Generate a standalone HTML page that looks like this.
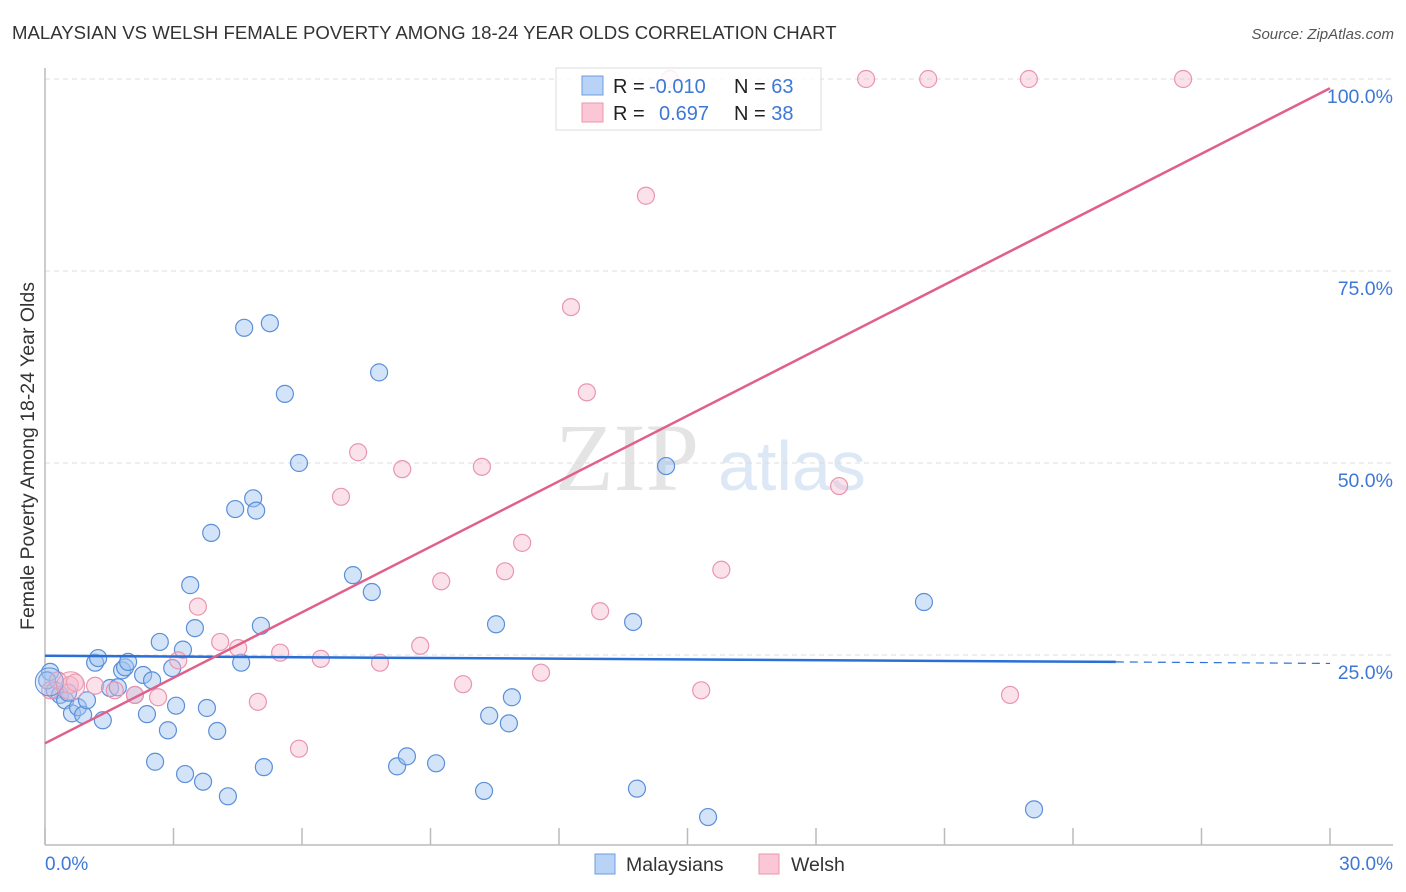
<!DOCTYPE html>
<html><head><meta charset="utf-8"><style>
body{margin:0;background:#fff;font-family:"Liberation Sans",sans-serif}
#wrap{position:relative;width:1406px;height:892px;overflow:hidden}
</style></head><body>
<div id="wrap">
<svg id="svg" width="1406" height="892" xmlns="http://www.w3.org/2000/svg">
<text x="12" y="39" font-size="18.6" fill="#333">MALAYSIAN VS WELSH FEMALE POVERTY AMONG 18-24 YEAR OLDS CORRELATION CHART</text>
<text x="1394" y="39" font-size="15" font-style="italic" fill="#555" text-anchor="end">Source: ZipAtlas.com</text>
<text x="555" y="490" font-size="96" font-family="Liberation Serif,serif" fill="#e4e4e4">ZIP</text>
<text x="718" y="490" font-size="70" fill="#dde8f6">atlas</text>
<text transform="translate(34,456) rotate(-90)" font-size="19.5" fill="#333" text-anchor="middle">Female Poverty Among 18-24 Year Olds</text>
<g id="grid"></g><g id="axes"></g><g id="pts"></g><g id="lines"></g>
<g>
<rect x="556" y="68" width="265" height="62" fill="#fff" fill-opacity="0.85" stroke="#ddd"/>
<rect x="582" y="76" width="21" height="19" fill="#b8d3f5" stroke="#6c9de0"/>
<rect x="582" y="103" width="21" height="19" fill="#fbc6d5" stroke="#eb97b0"/>
<text x="613" y="93" font-size="20" fill="#222">R = <tspan fill="#3d78d6" x="649">-0.010</tspan></text>
<text x="734" y="93" font-size="20" fill="#222">N = <tspan fill="#3d78d6">63</tspan></text>
<text x="613" y="120" font-size="20" fill="#222">R = <tspan fill="#3d78d6" x="659">0.697</tspan></text>
<text x="734" y="120" font-size="20" fill="#222">N = <tspan fill="#3d78d6">38</tspan></text>
</g>
<g>
<rect x="595" y="854" width="20" height="20" fill="#b8d3f5" stroke="#6c9de0"/>
<text x="626" y="871" font-size="19.5" fill="#333">Malaysians</text>
<rect x="759" y="854" width="20" height="20" fill="#fbc6d5" stroke="#eb97b0"/>
<text x="791" y="871" font-size="19.5" fill="#333">Welsh</text>
</g>
</svg>
</div>
<script>
const yTicks=[25,50,75,100];
const yTickLabels=["25.0%","50.0%","75.0%","100.0%"];
const xTickVals=[0,3,6,9,12,15,18,21,24,27,30];
const blueX=[0.12,0.23,0.35,0.47,0.54,0.63,0.77,0.89,0.98,1.17,1.24,1.35,1.52,1.70,1.80,1.87,1.94,2.10,2.29,2.38,2.50,2.57,2.68,2.87,2.97,3.06,3.22,3.27,3.39,3.50,3.69,3.78,3.88,4.02,4.27,4.44,4.58,4.65,4.86,4.93,5.04,5.11,5.25,5.60,5.93,7.19,7.63,7.80,8.22,8.45,9.13,10.25,10.53,10.37,10.83,10.90,13.82,13.73,14.50,15.48,20.52,23.09,0.05];
const blueY=[22.8,20.4,19.8,19.1,20.1,17.4,18.2,17.2,19.1,24.0,24.6,16.5,20.7,20.8,23.0,23.4,24.1,19.8,22.4,17.3,21.7,11.1,26.7,15.2,23.3,18.4,25.7,9.5,34.1,28.5,8.5,18.1,40.9,15.1,6.6,44.0,24.0,67.6,45.4,43.8,28.8,10.4,68.2,59.0,50.0,35.4,33.2,61.8,10.5,11.8,10.9,7.3,29.0,17.1,16.1,19.5,7.6,29.3,49.6,3.9,31.9,4.9,21.7];
const pinkX=[0.12,0.30,0.58,0.70,1.17,1.63,2.10,2.64,3.11,3.57,4.09,4.51,4.97,5.49,5.93,6.44,6.91,7.31,7.82,8.34,8.76,9.25,9.76,10.20,10.74,11.14,11.58,12.28,12.65,12.96,14.03,14.59,15.32,15.79,18.54,19.17,20.62,22.53,22.97,26.57];
const pinkY=[20.4,21.7,21.1,21.4,21.0,20.4,19.8,19.5,24.3,31.3,26.7,25.9,18.9,25.3,12.8,24.5,45.6,51.4,24.0,49.2,26.2,34.6,21.2,49.5,35.9,39.6,22.7,70.3,59.2,30.7,84.8,100,20.4,36.1,47.0,100,100,19.8,100,100];
const blueTrend=[24.9,24.1,23.9];
const pinkTrend=[13.5,98.8];
const X=v=>45+v*1285/30, Y=v=>847-v*7.68;
const NS="http://www.w3.org/2000/svg";
function mk(p,tag,a){const e=document.createElementNS(NS,tag);for(const k in a)e.setAttribute(k,a[k]);p.appendChild(e);return e;}
const grid=document.getElementById('grid'),axes=document.getElementById('axes'),pts=document.getElementById('pts'),lines=document.getElementById('lines');
yTicks.forEach((t,i)=>{
 const l=mk(grid,'line',{x1:45,x2:1393,y1:Y(t),y2:Y(t),stroke:'#ddd','stroke-dasharray':'5,4'});
 
 
 const tx=mk(grid,'text',{x:1393,y:Y(t)+24,'font-size':19.5,fill:'#3d78d6','text-anchor':'end'});
 tx.textContent=yTickLabels[i];
 
 
});
const ya=mk(axes,'line',{x1:45,x2:45,y1:68,y2:845,stroke:'#bbb','stroke-width':1.5});


const xa=mk(axes,'line',{x1:45,x2:1393,y1:845,y2:845,stroke:'#bbb','stroke-width':1.5});


xTickVals.forEach(v=>{
 const t=mk(axes,'line',{x1:X(v),x2:X(v),y1:828,y2:845,stroke:'#bbb','stroke-width':1.5});
 
 
});
const xl0=mk(axes,'text',{x:45,y:870,'font-size':19,fill:'#3d78d6'});xl0.textContent="0.0%";


const xl1=mk(axes,'text',{x:1393,y:870,'font-size':19,fill:'#3d78d6','text-anchor':'end'});xl1.textContent="30.0%";


blueX.forEach((v,i)=>{
 const c=mk(pts,'circle',{cx:X(v),cy:Y(blueY[i]),r:8.5,fill:'rgba(160,196,240,0.45)',stroke:'#5b8fd9','stroke-width':1.2});
 
 
});
pinkX.forEach((v,i)=>{
 const c=mk(pts,'circle',{cx:X(v),cy:Y(pinkY[i]),r:8.5,fill:'rgba(246,182,202,0.4)',stroke:'#e995ae','stroke-width':1.2});
 
 
});
const big1=mk(pts,'circle',{cx:X(0.1),cy:Y(21.5),r:14,fill:'rgba(160,196,240,0.35)',stroke:'#5b8fd9','stroke-width':1});


const big2=mk(pts,'circle',{cx:X(0.6),cy:Y(21),r:14,fill:'rgba(246,182,202,0.35)',stroke:'#e995ae','stroke-width':1});


const bl=mk(lines,'line',{x1:X(0),y1:Y(blueTrend[0]),x2:X(25),y2:Y(blueTrend[1]),stroke:'#2a6fd6','stroke-width':2.5});


const bd=mk(lines,'line',{x1:X(25),y1:Y(blueTrend[1]),x2:X(30),y2:Y(blueTrend[2]),stroke:'#2a6fd6','stroke-width':1.2,'stroke-dasharray':'8,6'});


const pl=mk(lines,'line',{x1:X(0),y1:Y(pinkTrend[0]),x2:X(30),y2:Y(pinkTrend[1]),stroke:'#e0608a','stroke-width':2.5});


</script>
</body></html>
